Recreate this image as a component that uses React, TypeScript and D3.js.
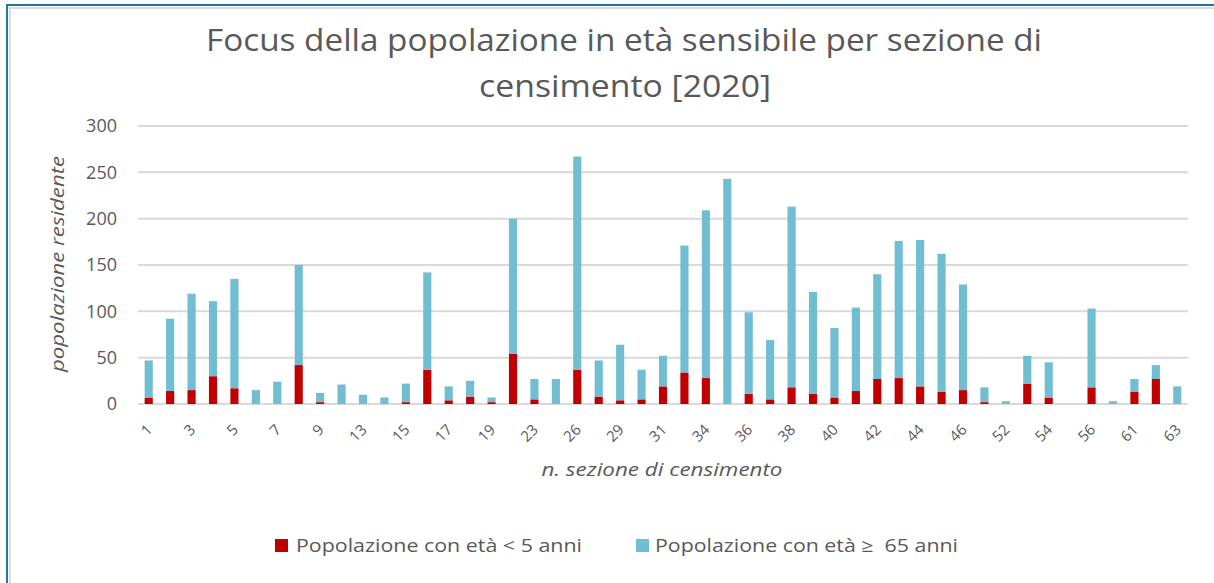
import React from 'react';
import * as d3 from 'd3';

// sezioni di censimento (solo una su due ha l'etichetta visibile)
const sezioni = [
  '1', '2', '3', '4', '5', '6', '7', '8', '9', '11', '13', '14', '15', '16', '17', '18', '19',
  '21', '23', '25', '26', '28', '29', '30', '31', '33', '34', '35', '36', '37', '38', '39', '40',
  '41', '42', '43', '44', '45', '46', '47', '52', '53', '54', '55', '56', '58', '61', '62', '63',
];
const under5 = [
  7, 14, 15, 30, 17, 0, 0, 42, 2, 0, 0, 0, 2, 37, 4, 8, 2,
  54, 5, 0, 37, 8, 4, 5, 19, 34, 28, 0, 11, 5, 18, 11, 7,
  14, 27, 28, 19, 13, 15, 2, 0, 22, 7, 0, 18, 0, 13, 27, 0,
];
const over65 = [
  40, 78, 104, 81, 118, 15, 24, 108, 10, 21, 10, 7, 20, 105, 15, 17, 5,
  146, 22, 27, 230, 39, 60, 32, 33, 137, 181, 243, 88, 64, 195, 110, 75,
  90, 113, 148, 158, 149, 114, 16, 3, 30, 38, 0, 85, 3, 14, 15, 19,
];
const yTicks = [0, 50, 100, 150, 200, 250, 300];
const seriesNames = ['Popolazione con età < 5 anni', 'Popolazione con età ≥  65 anni'];
const colors = ['#C00000', '#71BDD2'];

const W = 1214;
const H = 583;
const FONT = '"Open Sans", "Noto Sans", sans-serif';
const GREY = '#595959';

export default function App() {
  const x = d3.scaleBand<string>().domain(sezioni).range([138, 1188]).paddingInner(0.62).paddingOuter(0.31);
  const y = d3.scaleLinear().domain([0, 300]).range([404, 126]);

  const rows = sezioni.map((s, i) => ({ s, under5: under5[i], over65: over65[i] }));
  const stacked = d3.stack<any>().keys(['under5', 'over65'])(rows);

  return (
    <div style={{ position: 'fixed', left: 0, top: 0 }}>
      <svg width={W} height={H} style={{ display: 'block', background: '#fff' }} fontFamily={FONT}>
        {/* cornice */}
        <line x1={7} x2={W} y1={8} y2={8} stroke="#DDDDDD" strokeWidth={2} />
        <line x1={10} x2={10} y1={8} y2={H} stroke="#DDDDDD" strokeWidth={2} />
        <line x1={6} x2={W} y1={5} y2={5} stroke="#1B7B9B" strokeWidth={2} />
        <line x1={7} x2={7} y1={4} y2={H} stroke="#1B7B9B" strokeWidth={2} />

        {/* titolo */}
        <text x={624} y={51} textAnchor="middle" fontSize={31} fill={GREY} textLength={836} lengthAdjust="spacingAndGlyphs">
          Focus della popolazione in età sensibile per sezione di
        </text>
        <text x={625} y={97} textAnchor="middle" fontSize={31} fill={GREY} textLength={292} lengthAdjust="spacingAndGlyphs">
          censimento [2020]
        </text>

        {/* griglia e asse y */}
        {yTicks.map(t => (
          <g key={t}>
            <line x1={138} x2={1188} y1={y(t)} y2={y(t)} stroke="#D9D9D9" strokeWidth={2} />
            <text x={117} y={y(t)} dy="0.35em" textAnchor="end" fontSize={18} fill={GREY}>{t}</text>
          </g>
        ))}

        {/* barre */}
        {stacked.map((layer, li) => (
          <g key={li} fill={colors[li]}>
            {layer.map((d, i) => {
              const h = y(d[0]) - y(d[1]);
              if (h <= 0) return null;
              return <rect key={i} x={x(sezioni[i])!} width={x.bandwidth()} y={y(d[1])} height={h} />;
            })}
          </g>
        ))}

        {/* etichette asse x */}
        {sezioni.map((s, i) => i % 2 === 0 ? (
          <text key={s} transform={`translate(${x(s)! + x.bandwidth() / 2 + 1},427) rotate(-45)`}
            textAnchor="end" dy="0.35em" fontSize={15} fill={GREY}>{s}</text>
        ) : null)}

        {/* titoli assi */}
        <text x={662} y={476} textAnchor="middle" fontSize={18} fontStyle="italic" fill={GREY} textLength={241} lengthAdjust="spacingAndGlyphs">
          n. sezione di censimento
        </text>
        <text transform="translate(64,264) rotate(-90)" textAnchor="middle" fontSize={18} fontStyle="italic" fill={GREY} textLength={216} lengthAdjust="spacingAndGlyphs">
          popolazione residente
        </text>

        {/* legenda */}
        {[{ x: 275, tx: 296, tw: 286 }, { x: 636, tx: 655, tw: 303 }].map((l, i) => (
          <g key={i}>
            <rect x={l.x} y={539} width={13} height={13} fill={colors[i]} />
            <text x={l.tx} y={546} dy="0.35em" fontSize={18} fill={GREY} style={{ whiteSpace: 'pre' }}
              textLength={l.tw} lengthAdjust="spacingAndGlyphs">
              {seriesNames[i]}
            </text>
          </g>
        ))}
      </svg>
    </div>
  );
}
